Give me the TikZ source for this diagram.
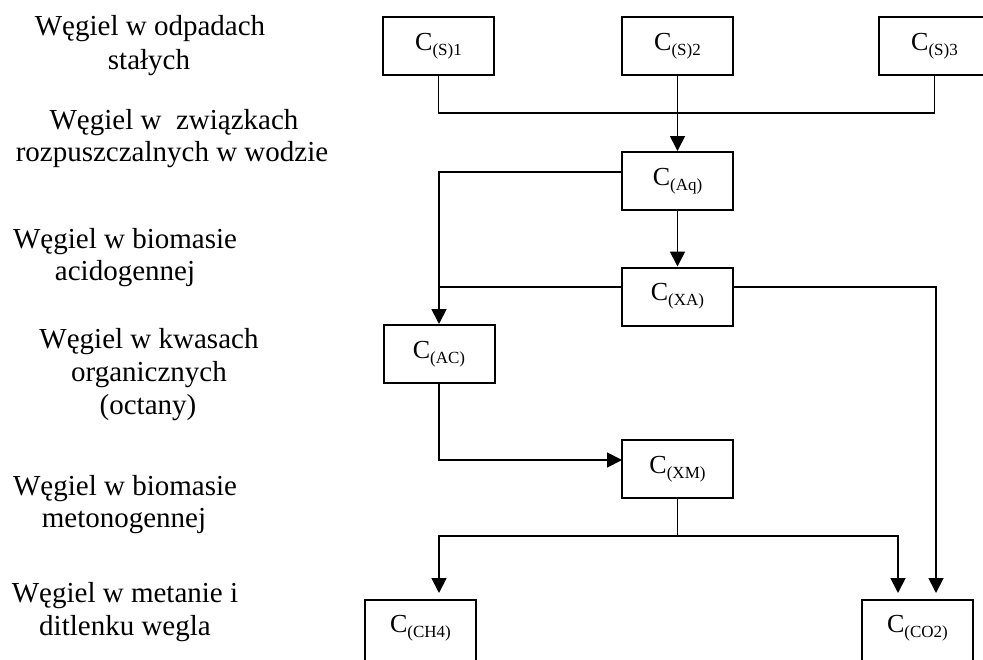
\documentclass[tikz,border=0pt]{standalone}
\usepackage{fontspec}
\setmainfont{Liberation Serif}
\usetikzlibrary{arrows.meta}
\newcommand{\Csub}[1]{C{\fontsize{17}{17}\selectfont\raisebox{-5pt}{#1}}}
\tikzset{
  cbox/.style={draw, line width=2pt, minimum width=111pt, minimum height=58pt, inner sep=0pt, font=\fontsize{26}{30}\selectfont},
  lowbox/.style={cbox, minimum height=90pt, text depth=0pt},
  lbl/.style={anchor=base, inner sep=0pt, font=\fontsize{29}{33}\selectfont},
  conn/.style={line width=1.8pt},
  arr/.style={conn, -{Triangle[width=15pt,length=15pt]}},
}
\begin{document}
\begin{tikzpicture}[x=1pt, y=-1pt]
\useasboundingbox (0,0) rectangle (983,659);
\clip (0,0) rectangle (983,659);
% boxes
\node[cbox] (s1) at (438.5,46) {\Csub{(S)1}};
\node[cbox] (s2) at (677.5,46) {\Csub{(S)2}};
\node[cbox] (s3) at (934.5,46) {\Csub{(S)3}};
\node[cbox] (aq) at (677.5,181) {\Csub{(Aq)}};
\node[cbox] (xa) at (677.5,296.5) {\Csub{(XA)}};
\node[cbox] (ac) at (439,354) {\Csub{(AC)}};
\node[cbox] (xm) at (677.5,469) {\Csub{(XM)}};
\node[lowbox, anchor=north] (ch4) at (420.5,599) {};
\node[lowbox, anchor=north] (co2) at (917.5,599) {};
\node[anchor=center, inner sep=0pt, font=\fontsize{26}{30}\selectfont] (ch4t) at (420.5,628) {\Csub{(CH4)}};
\node[anchor=center, inner sep=0pt, font=\fontsize{26}{30}\selectfont] (co2t) at (917.5,628) {\Csub{(CO2)}};
% junctions
\coordinate (j1) at (677.5,113);
\coordinate (aqw) at (622,172);
\coordinate (xaw) at (622,287);
\coordinate (xae) at (733,287);
\coordinate (xmw) at (622,460);
\coordinate (j2) at (677.5,536);
\coordinate (xad) at (936,593);
\coordinate (xmd1) at (439,593);
\coordinate (xmd2) at (898,593);
% connectors
\draw[conn] (s1.south) |- (j1) -| (s3.south);
\draw[arr] (s2.south) -- (aq.north);
\draw[arr] (aqw) -| (ac.north);
\draw[arr] (aq.south) -- (xa.north);
\draw[conn] (xaw) -- (ac.north |- xaw);
\draw[arr] (xae) -| (xad);
\draw[arr] (ac.south) |- (xmw);
\draw[conn] (xm.south) -- (j2);
\draw[arr] (j2) -| (xmd1);
\draw[arr] (j2) -| (xmd2);
% labels
\node[lbl] (l1a) at (150,35) {Węgiel w odpadach};
\node[lbl] (l1b) at (149,69) {stałych};
\node[lbl] (l2a) at (174,129) {Węgiel w\ \ związkach};
\node[lbl] (l2b) at (172,161) {rozpuszczalnych w wodzie};
\node[lbl] (l3a) at (125,248) {Węgiel w biomasie};
\node[lbl] (l3b) at (125,280) {acidogennej};
\node[lbl] (l4a) at (149,348) {Węgiel w kwasach};
\node[lbl] (l4b) at (149,381) {organicznych};
\node[lbl] (l4c) at (148,414) {(octany)};
\node[lbl] (l5a) at (125,495) {Węgiel w biomasie};
\node[lbl] (l5b) at (124,527) {metonogennej};
\node[lbl] (l6a) at (125,602) {Węgiel w metanie i};
\node[lbl] (l6b) at (125,635) {ditlenku wegla};
\end{tikzpicture}
\end{document}
